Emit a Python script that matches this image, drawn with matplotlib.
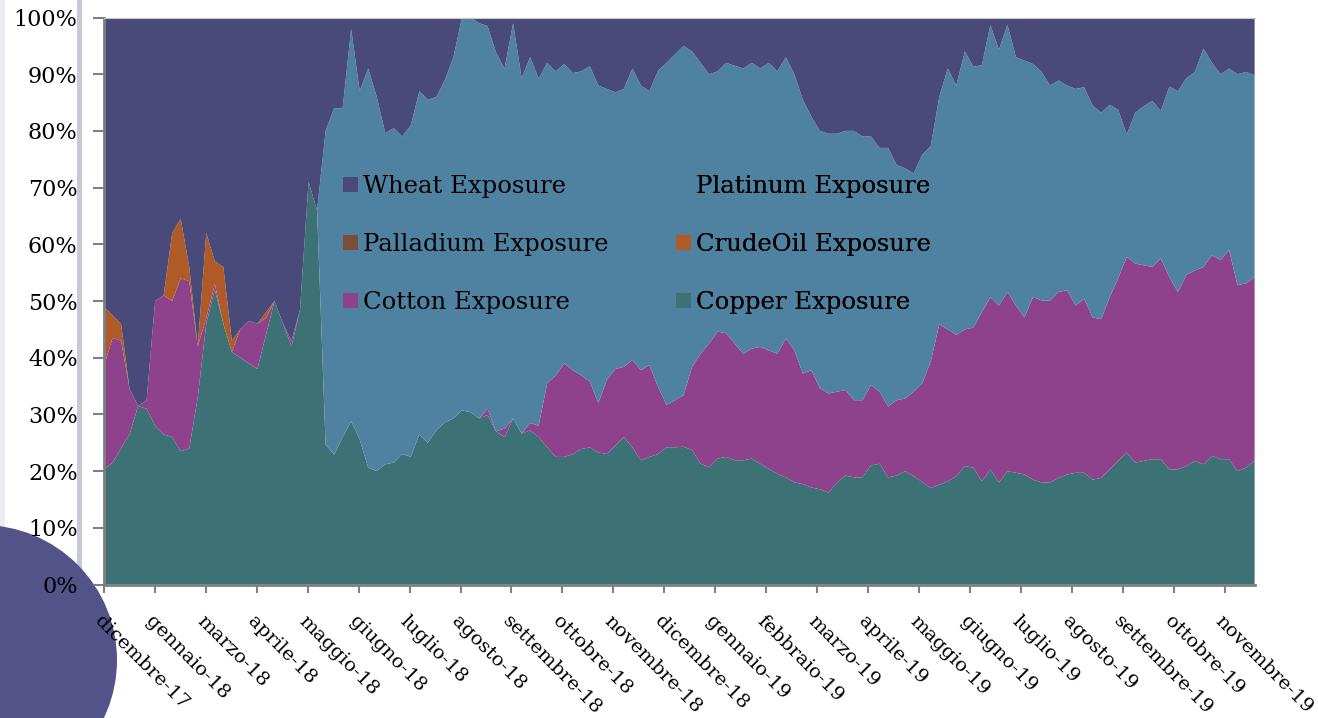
import numpy as np
import matplotlib.pyplot as plt
from matplotlib.patches import Rectangle, Circle, Patch

# category axis: one label every 22 trading days
month_labels = ["dicembre-17", "gennaio-18", "marzo-18", "aprile-18", "maggio-18",
                "giugno-18", "luglio-18", "agosto-18", "settembre-18", "ottobre-18",
                "novembre-18", "dicembre-18", "gennaio-19", "febbraio-19", "marzo-19",
                "aprile-19", "maggio-19", "giugno-19", "luglio-19", "agosto-19",
                "settembre-19", "ottobre-19", "novembre-19"]
n_days = 498
days_per_label = 22

# exposures (%), sampled roughly every 3.7 trading days
copper = [20.3, 21.5, 24, 26.5, 31.5, 31, 28, 26.5, 26, 23.5,
          24, 33, 46, 52, 46, 41, 40, 39, 38, 44,
          50, 46, 42, 48.5, 71, 66, 24.7, 22.9, 26, 28.8,
          25.6, 20.6, 20, 21.2, 21.5, 23, 22.5, 26.5, 25, 27.2,
          28.6, 29.3, 30.7, 30.4, 29.3, 29.9, 27, 26, 29.3, 26.6,
          27.2, 26, 24.2, 22.5, 22.5, 23, 23.9, 24.2, 23.3, 23,
          24.5, 26, 24.2, 21.9, 22.5, 23, 24.2, 24.2, 24.3, 23.7,
          21.3, 20.7, 22.2, 22.5, 21.9, 21.9, 22.2, 21.3, 20.4, 19.5,
          18.9, 18, 17.7, 17.1, 16.8, 16.2, 18, 19.2, 18.9, 18.9,
          21, 21.3, 18.9, 19.2, 20, 19.1, 18.1, 17, 17.6, 18.2,
          19.1, 20.9, 20.6, 18.2, 20.3, 18, 20, 19.7, 19.4, 18.5,
          18, 18, 18.8, 19.4, 19.7, 19.7, 18.5, 18.8, 20.3, 21.8,
          23.3, 21.5, 21.8, 22.1, 22.1, 20.3, 20.3, 20.9, 21.8, 21.2,
          22.7, 22.1, 22.1, 20, 20.6, 21.8]
cotton = [18.2, 22, 19, 8, 0, 1.5, 22, 24.5, 24, 30.5,
          29.5, 9, 1, 1, 0, 0, 5, 7.5, 8, 3,
          0, 0, 1, 0, 0, 0, 0, 0, 0, 0,
          0, 0, 0, 0, 0, 0, 0, 0, 0, 0,
          0, 0, 0, 0, 0, 1.1, 0, 1.5, 0, 0,
          1.3, 2, 11.3, 14.4, 16.5, 14.8, 13, 11.6, 8.7, 13.1,
          13.5, 12.4, 15.4, 15.9, 16.2, 11.9, 7.5, 8.3, 9.1, 14.7,
          19.4, 21.8, 22.4, 21.8, 20.6, 18.8, 19.4, 20.6, 20.9, 21.2,
          24.5, 23.3, 19.5, 20.7, 17.8, 17.5, 16, 15.1, 13.6, 13.6,
          14.2, 12.7, 12.5, 13.3, 12.8, 14.9, 17.4, 22.3, 28.3, 26.8,
          24.9, 24.1, 24.7, 29.8, 30.4, 31.2, 31.6, 29.5, 27.7, 32.2,
          32.1, 32.1, 32.8, 32.5, 29.5, 30.7, 28.6, 28, 30.4, 32.2,
          34.5, 35.1, 34.5, 33.9, 35.4, 33.9, 31.3, 33.7, 33.6, 34.8,
          35.4, 35.1, 36.9, 32.8, 32.5, 32.4]
# crude oil only shows up in the first months
crude_oil = [10.5, 4, 3, 0, 0, 0, 0, 0, 12, 10.5,
             2.5, 0, 15, 4, 10, 2, 0, 0, 0, 1,
             0, 0, 0, 0, 0, 0] + [0.0] * 110
# palladium is in the legend but stays at zero
palladium = [0.0] * 136
platinum = [0.0] * 26 + [
    55.3, 61.1, 58, 69.2,
    61.4, 70.4, 66, 58.4, 59, 56, 58.5, 60.5, 60.5, 58.8,
    60.4, 63.7, 69.3, 69.6, 69.7, 67.5, 66.8, 63.5, 69.7, 62.7,
    64.5, 61.2, 56.5, 53.6, 52.8, 52.4, 53.6, 55.6, 56, 51.3,
    48.8, 49, 51.4, 50.2, 48.3, 55.7, 60.3, 61, 61.6, 55.6,
    51.3, 47.5, 45.9, 47.7, 49, 50.3, 50.4, 49.1, 50.7, 49.8,
    49.6, 48.7, 48.3, 44.7, 45.4, 45.8, 45.5, 45.7, 47.5, 46.5,
    43.8, 43, 45.6, 41.5, 40.6, 38.5, 40.3, 38, 40.1, 46,
    44, 49, 46, 43.6, 48, 45.1, 47.1, 43.8, 45.3, 41.1,
    40.3, 37.9, 37.3, 36.1, 38.2, 37.3, 37.4, 36.4, 33.9, 29.7,
    21.6, 26.6, 28.1, 29.3, 26, 33.6, 35.4, 34.7, 35, 38.5,
    33.9, 32.8, 32, 37.2, 37.3, 35.6]
wheat = [51, 52.5, 54, 65.5, 68.5, 67.5, 50, 49, 38, 35.5,
         44, 58, 38, 43, 44, 57, 55, 53.5, 54, 52,
         50, 54, 57, 51.5, 29, 34, 20, 16, 16, 2,
         13, 9, 14, 20.4, 19.5, 21, 19, 13, 14.5, 14,
         11, 7, 0, 0, 1, 1.5, 6.2, 9, 1, 10.7,
         7, 10.8, 8, 9.5, 8.2, 9.8, 9.5, 8.6, 12, 12.6,
         13.2, 12.6, 9, 12, 13, 9.4, 8, 6.5, 5, 6,
         8, 10, 9.5, 8, 8.5, 9, 8, 9, 8, 9.5,
         7, 10, 14.5, 17.5, 20, 20.5, 20.5, 20, 20, 21,
         21, 23, 23, 26, 26.6, 27.5, 24.2, 22.7, 14, 9,
         12, 6, 8.7, 8.4, 1.3, 5.7, 1.3, 7, 7.6, 8.2,
         9.6, 12, 11.1, 12, 12.6, 12.3, 15.5, 16.8, 15.4, 16.3,
         20.6, 16.8, 15.6, 14.7, 16.5, 12.2, 13, 10.7, 9.6, 5.5,
         8, 10, 9, 10, 9.6, 10.2]

series = {
    "Copper Exposure": (copper, "#3c7175"),
    "Cotton Exposure": (cotton, "#8d428b"),
    "CrudeOil Exposure": (crude_oil, "#b05a27"),
    "Palladium Exposure": (palladium, "#7b4f35"),
    "Platinum Exposure": (platinum, "#4f81a0"),
    "Wheat Exposure": (wheat, "#4a4a7a"),
}

plt.rcParams["font.family"] = ["DejaVu Serif"]

W, H = 1318, 718
fig = plt.figure(figsize=(W / 100, H / 100), dpi=100)

# slide decorations drawn in pixel coordinates
deco = fig.add_axes([0, 0, 1, 1], zorder=0)
deco.set_xlim(0, W)
deco.set_ylim(H, 0)
deco.axis("off")
deco.add_patch(Rectangle((0, 0), 5, H, color="#ededf1", lw=0))
deco.add_patch(Rectangle((77, 0), 5, H, color="#c8c8d8", lw=0))
deco.add_patch(Circle((-18, 660), 135, color="#535389", lw=0))

ax = fig.add_axes([104 / W, 1 - 584.5 / H, (1254.6 - 104) / W, (584.5 - 17.5) / H], zorder=1)
ax.patch.set_alpha(0)

vals = np.array([v for v, _ in series.values()], dtype=float)
vals = vals / vals.sum(axis=0) * 100
x = np.linspace(0, n_days - 1, vals.shape[1])
ax.stackplot(x, vals, colors=[c for _, c in series.values()], linewidth=0,
             antialiased=True)

ax.set_xlim(0, n_days - 1)
ax.set_ylim(0, 100)
ax.set_yticks(np.arange(0, 101, 10))
ax.set_yticklabels([f"{v}%" for v in range(0, 101, 10)], fontsize=16)
ax.set_xticks(np.arange(len(month_labels)) * days_per_label)
ax.set_xticklabels(month_labels, fontsize=14, rotation=-45, ha="left", va="top",
                   rotation_mode="anchor")
ax.tick_params(axis="y", direction="out", length=8, width=1.5, color="#7f7f7f", pad=11)
ax.tick_params(axis="x", direction="out", length=6, width=1.5, color="#7f7f7f", pad=14)
for side in ("left", "bottom"):
    ax.spines[side].set_color("#7f7f7f")
    ax.spines[side].set_linewidth(2)
ax.spines["top"].set_color("#c8c8c8")
ax.spines["top"].set_linewidth(0.8)
ax.spines["right"].set_visible(False)

# legend: two columns of three, no frame
handles = {k: Patch(facecolor=c, edgecolor="none") for k, (_, c) in series.items()}
cols = [["Wheat Exposure", "Palladium Exposure", "Cotton Exposure"],
        ["Platinum Exposure", "CrudeOil Exposure", "Copper Exposure"]]
for names, left in zip(cols, (343, 676)):
    leg = ax.legend([handles[n] for n in names], names, loc="upper left",
                    bbox_to_anchor=(left / W, 1 - 175 / H), bbox_transform=fig.transFigure,
                    frameon=False, fontsize=17.5, borderpad=0, borderaxespad=0,
                    handlelength=0.62, handleheight=0.62, handletextpad=0.22,
                    labelspacing=1.44)
    ax.add_artist(leg)

fig.savefig("out.png", dpi=100)
